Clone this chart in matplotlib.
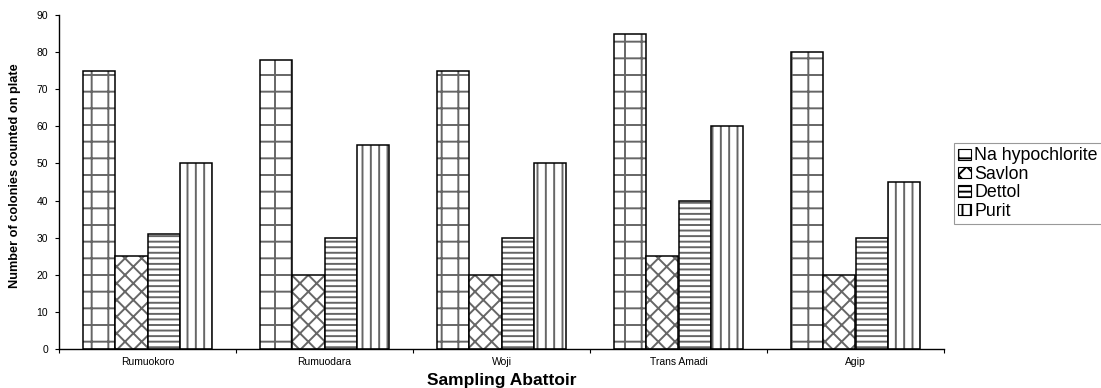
import matplotlib
matplotlib.use("Agg")
import matplotlib.pyplot as plt
from matplotlib.patches import Patch
import numpy as np

categories = ["Rumuokoro", "Rumuodara", "Woji", "Trans Amadi", "Agip"]
series_names = ["Na hypochlorite", "Savlon", "Dettol", "Purit"]
na_hypochlorite = [75, 78, 75, 85, 80]
savlon = [25, 20, 20, 25, 20]
dettol = [31, 30, 30, 40, 30]
purit = [50, 55, 50, 60, 45]
y_ticks = [0, 10, 20, 30, 40, 50, 60, 70, 80, 90]

series = [na_hypochlorite, savlon, dettol, purit]
hatches = ["+", "xx", "---", "||"]

plt.rcParams["font.family"] = ["Liberation Sans", "DejaVu Sans"]
plt.rcParams["hatch.linewidth"] = 1.4

fig = plt.figure(figsize=(11.01, 3.88), dpi=100)
ax = fig.add_axes([59 / 1101, 1 - 349 / 388, (944 - 59) / 1101, (349 - 15) / 388])

x = np.arange(len(categories))
w = 0.182
offsets = (np.arange(4) - 1.5) * w
for vals, h, off in zip(series, hatches, offsets):
    ax.bar(x + off, vals, w, facecolor="white", edgecolor="#666666", hatch=h, linewidth=0)
    ax.bar(x + off, vals, w, facecolor="none", edgecolor="black", linewidth=1.1)

ax.set_xlim(-0.5, len(categories) - 0.5)
ax.set_ylim(0, 90)
ax.set_yticks(y_ticks)
ax.set_yticklabels([str(t) for t in y_ticks], fontsize=7.5)
ax.set_xticks(np.arange(len(categories) + 1) - 0.5)
ax.set_xticklabels([])
ax.set_xticks(x, minor=True)
ax.set_xticklabels(categories, minor=True, fontsize=7.5)
ax.tick_params(axis="x", which="minor", length=0, pad=6)
ax.tick_params(axis="x", which="major", length=3, direction="out")
ax.tick_params(axis="y", length=3, direction="out", pad=5)
for s in ["top", "right"]:
    ax.spines[s].set_visible(False)
ax.spines["left"].set_linewidth(1.0)
ax.spines["bottom"].set_linewidth(1.0)

ax.set_ylabel("Number of colonies counted on plate", fontsize=9.2, fontweight="bold")
ax.yaxis.set_label_coords(-0.043, 0.52)
ax.set_xlabel("Sampling Abattoir", fontsize=12.5, fontweight="bold", labelpad=4)

handles = [Patch(facecolor="white", edgecolor="black", hatch=h, linewidth=0.8) for h in hatches]
leg = fig.legend(handles, series_names, loc="upper left",
                 bbox_to_anchor=(954 / 1101, 1 - 143 / 388), fontsize=12.8,
                 handlelength=0.7, handleheight=0.6, handletextpad=0.2,
                 labelspacing=0.08, borderpad=0.25, fancybox=False, borderaxespad=0)
leg.get_frame().set_edgecolor("#808080")
leg.get_frame().set_linewidth(0.8)

fig.savefig("out.png", dpi=100)
